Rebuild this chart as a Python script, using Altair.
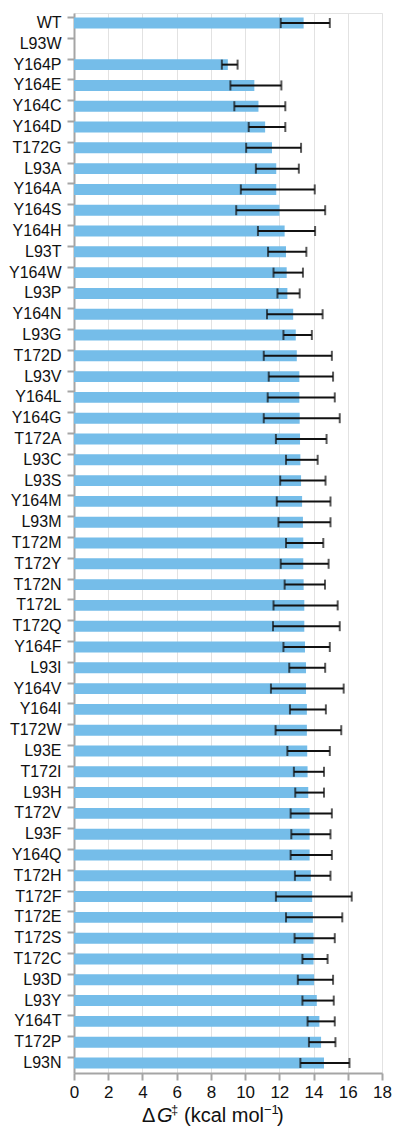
import altair as alt
import pandas as pd

variants = ["WT", "L93W", "Y164P", "Y164E", "Y164C", "Y164D", "T172G", "L93A", "Y164A",
            "Y164S", "Y164H", "L93T", "Y164W", "L93P", "Y164N", "L93G", "T172D", "L93V",
            "Y164L", "Y164G", "T172A", "L93C", "L93S", "Y164M", "L93M", "T172M", "T172Y",
            "T172N", "T172L", "T172Q", "Y164F", "L93I", "Y164V", "Y164I", "T172W", "L93E",
            "T172I", "L93H", "T172V", "L93F", "Y164Q", "T172H", "T172F", "T172E", "T172S",
            "T172C", "L93D", "L93Y", "Y164T", "T172P", "L93N"]

dg = [13.42, None, 8.99, 10.54, 10.78, 11.17, 11.57, 11.82, 11.82,
      12.01, 12.31, 12.39, 12.43, 12.47, 12.81, 12.96, 13.02, 13.17,
      13.17, 13.19, 13.21, 13.23, 13.27, 13.33, 13.38, 13.40, 13.40,
      13.42, 13.46, 13.46, 13.50, 13.56, 13.56, 13.61, 13.61, 13.63,
      13.65, 13.69, 13.77, 13.77, 13.77, 13.84, 13.92, 13.96, 14.00,
      14.00, 14.03, 14.19, 14.34, 14.44, 14.61]

err_lo = [12.08, None, 8.64, 9.14, 9.37, 10.21, 10.06, 10.63, 9.75,
          9.48, 10.75, 11.34, 11.66, 11.89, 11.28, 12.24, 11.09, 11.38,
          11.32, 11.09, 11.80, 12.39, 12.05, 11.85, 11.95, 12.39, 12.08,
          12.31, 11.66, 11.63, 12.24, 12.58, 11.51, 12.62, 11.78, 12.47,
          12.85, 12.93, 12.66, 12.70, 12.66, 12.91, 11.80, 12.39, 12.89,
          13.35, 13.08, 13.35, 13.65, 13.73, 13.23]

err_hi = [14.95, None, 9.56, 12.12, 12.35, 12.35, 13.27, 13.14, 14.07,
          14.68, 14.09, 13.58, 13.38, 13.19, 14.53, 13.90, 15.07, 15.14,
          15.24, 15.53, 14.76, 14.24, 14.70, 14.99, 14.99, 14.57, 14.88,
          14.67, 15.41, 15.53, 14.95, 14.68, 15.76, 14.72, 15.62, 14.95,
          14.61, 14.61, 15.07, 14.99, 15.07, 14.99, 16.23, 15.68, 15.24,
          14.82, 15.14, 15.18, 15.24, 15.28, 16.10]

x_ticks = list(range(0, 19, 2))

df = pd.DataFrame({"variant": variants, "dg": dg, "lo": err_lo, "hi": err_hi})

FONT = "Liberation Sans"
GREY = "#a5a5a5"
INK = "#111111"
W, H = 308, 1060

y_scale = alt.Scale(domain=variants, paddingInner=0.475, paddingOuter=0.22)
y_axis = alt.Axis(title=None, domain=True, domainColor=GREY, domainWidth=2,
                  ticks=True, tickColor=GREY, tickWidth=2, tickSize=7,
                  bandPosition=0, labelFontSize=16, labelColor=INK,
                  labelFont=FONT, labelPadding=6, grid=False)

x_scale = alt.Scale(domain=[0, 18], nice=False)
x_axis = alt.Axis(values=x_ticks, title=None, labelOverlap=False, labelFlush=False,
                  labelFont=FONT, labelFontSize=17, labelColor=INK,
                  labelPadding=4, domainColor=GREY, domainWidth=2, tickColor=GREY,
                  tickWidth=2, tickSize=7, grid=True, gridColor="#e2e2e2", gridWidth=1)


def X(field):
    return alt.X(field, type="quantitative", scale=x_scale, axis=x_axis)


def Y():
    return alt.Y("variant:N", sort=variants, scale=y_scale, axis=y_axis)


base = alt.Chart(df)

bars = base.mark_bar(color="#75bde9").encode(x=X("dg"), y=Y())

err = base.mark_rule(color=INK, strokeWidth=2).encode(x=X("lo"), x2="hi:Q", y=Y())

cap_lo = base.mark_tick(color=INK, thickness=2, size=10, orient="vertical").encode(
    x=X("lo"), y=Y())
cap_hi = base.mark_tick(color=INK, thickness=2, size=10, orient="vertical").encode(
    x=X("hi"), y=Y())

# axis title: Delta G-double-dagger (kcal mol^-1), with italic G and superscripts
one = pd.DataFrame({"k": [0]})
title_base_y = H + 49
title_parts = [
    ("Δ", 68, 0, 20, "normal"),
    ("G", 83, 0, 20, "italic"),
    ("‡", 97, -8, 13, "normal"),
    ("(kcal mol", 110, 0, 20, "normal"),
    ("−1", 190, -8, 13, "normal"),
    (")", 203, 0, 20, "normal"),
]
title_layers = [
    alt.Chart(one).mark_text(text=t, align="left", baseline="alphabetic", font=FONT,
                             fontSize=fs, fontStyle=st, color=INK).encode(
        x=alt.value(xp), y=alt.value(title_base_y + dy))
    for (t, xp, dy, fs, st) in title_parts
]

chart = alt.layer(bars, err, cap_lo, cap_hi, *title_layers).properties(
    width=W, height=H,
    autosize=alt.AutoSizeParams(type="none"),
    padding={"left": 66, "top": 5, "right": 10, "bottom": 55},
).configure_view(stroke="#e2e2e2", strokeWidth=1)

chart.save("out.html", embed_options={"renderer": "svg", "actions": False})
